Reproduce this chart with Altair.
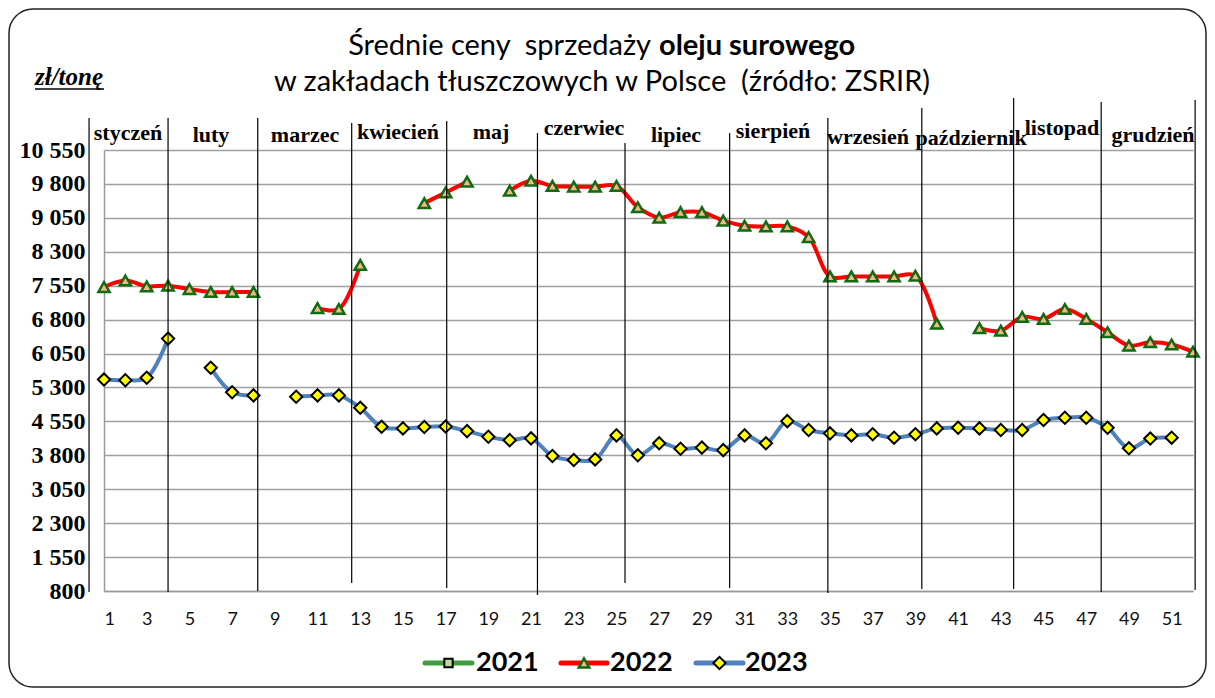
import altair as alt
import pandas as pd

# ---------------- data ----------------
weeks = list(range(1, 53))
y2022 = [7520, 7665, 7535, 7550, 7475, 7410, 7410, 7410, None, None,
         7055, 7035, 8010, None, None, 9375, 9610, 9850, None, 9650,
         9870, 9755, 9740, 9740, 9755, 9285, 9055, 9175, 9175, 8990,
         8875, 8860, 8860, 8625, 7755, 7755, 7755, 7755, 7770, 6710,
         None, 6610, 6555, 6860, 6815, 7035, 6815, 6520, 6225, 6300,
         6250, 6090]
y2023 = [5475, 5460, 5515, 6380, None, 5735, 5195, 5125, None, 5095,
         5125, 5125, 4850, 4430, 4395, 4425, 4435, 4335, 4210, 4135,
         4175, 3785, 3695, 3710, 4240, 3800, 4065, 3945, 3970, 3915,
         4240, 4065, 4555, 4360, 4285, 4240, 4265, 4190, 4265, 4395,
         4410, 4395, 4360, 4360, 4580, 4630, 4630, 4410, 3955, 4170,
         4190, None]
series_names = ["2021", "2022", "2023"]
months = ["styczeń", "luty", "marzec", "kwiecień", "maj", "czerwiec",
          "lipiec", "sierpień", "wrzesień", "październik", "listopad", "grudzień"]
y_ticks = list(range(800, 10551, 750))
x_ticks = list(range(1, 52, 2))

# ---------------- layout (pixels / styling) ----------------
W, H = 1089, 441
OX, OY = 104, 150  # page position of plot origin
boundary_weeks = [0.3, 4.0, 8.2, 12.6, 17.05, 21.3, 25.4, 30.3, 34.9, 39.3, 43.6, 47.7, 52.1]
boundary_ext = [(118, 592), (118, 592), (118, 591), (123, 583), (121, 588), (133, 595),
                (143, 583), (133, 588), (118, 593), (108, 589), (98, 589), (102, 592), (100, 590)]
month_pos = [(128, 133), (211, 135), (305, 135), (398, 132), (491, 132), (584, 128),
             (676, 135), (773, 131), (868, 137), (971, 138), (1062, 128), (1153, 135)]

SERIF = "Liberation Serif"
SANS = "Lato"
NB = "\u00a0"


def segments(vals):
    rows, seg = [], 0
    prev = False
    for w, v in zip(weeks, vals):
        if v is None:
            if prev:
                seg += 1
            prev = False
            continue
        rows.append({"week": w, "value": v, "seg": seg})
        prev = True
    return pd.DataFrame(rows)


d22 = segments(y2022)
d23 = segments(y2023)

xs = alt.Scale(domain=[1, 52], nice=False, zero=False)
ys = alt.Scale(domain=[800, 10550], nice=False, zero=False)

x_axis = alt.Axis(values=x_ticks, title=None, grid=False, ticks=False, tickSize=0,
                  labelFont=SANS, labelFontSize=18, labelColor="#111111",
                  labelPadding=19, domainColor="#9a9a9a", domainWidth=1.5)
y_axis = alt.Axis(values=y_ticks, title=None, grid=True, gridColor="#a0a0a0", gridWidth=1.5,
                  ticks=False, tickSize=0, labelFont=SERIF, labelFontSize=24,
                  labelFontWeight="bold", labelColor="#000000", labelPadding=19,
                  labelExpr="replace(format(datum.value, ','), ',', ' ')",
                  domainColor="#9a9a9a", domainWidth=1.5)

X = alt.X("week:Q", scale=xs, axis=x_axis)
Y = alt.Y("value:Q", scale=ys, axis=y_axis)

layers = []

# 2022
layers.append(alt.Chart(d22).mark_line(color="#ff0000", strokeWidth=4, interpolate="catmull-rom")
              .encode(x=X, y=Y, detail="seg:N"))
layers.append(alt.Chart(d22).mark_point(shape="triangle-up", filled=True, fill="#f3b78a",
                                        stroke="#116b11", strokeWidth=2.5, size=125, opacity=1)
              .encode(x=X, y=Y))
# 2023
layers.append(alt.Chart(d23).mark_line(color="#4f81bd", strokeWidth=4, interpolate="catmull-rom")
              .encode(x=X, y=Y, detail="seg:N"))
layers.append(alt.Chart(d23).mark_point(shape="diamond", filled=True, fill="#ffff00",
                                        stroke="#000000", strokeWidth=2, size=150, opacity=1)
              .encode(x=X, y=Y))

# month boundary lines
for b, (t, bt) in zip(boundary_weeks, boundary_ext):
    layers.append(alt.Chart(pd.DataFrame({"week": [b]})).mark_rule(color="#000000", strokeWidth=1.2)
                  .encode(x=X, y=alt.value(t - OY), y2=alt.value(bt - OY)))

# month labels
for m, (px, py) in zip(months, month_pos):
    layers.append(alt.Chart(pd.DataFrame({"t": [m]})).mark_text(
        font=SERIF, fontSize=22, fontWeight="bold", color="#000000",
        align="center", baseline="middle").encode(
        text="t:N", x=alt.value(px - OX), y=alt.value(py - OY)))

# titles
layers.append(alt.Chart(pd.DataFrame({"t": ["Średnie ceny " + NB + "sprzedaży"]})).mark_text(
    font=SANS, fontSize=29, color="#000000", align="right", baseline="alphabetic").encode(
    text="t:N", x=alt.value(651 - OX), y=alt.value(55 - OY)))
layers.append(alt.Chart(pd.DataFrame({"t": ["oleju surowego"]})).mark_text(
    font=SANS, fontSize=29, fontWeight="bold", color="#000000", align="left",
    baseline="alphabetic").encode(
    text="t:N", x=alt.value(659 - OX), y=alt.value(55 - OY)))
layers.append(alt.Chart(pd.DataFrame({"t": ["w zakładach tłuszczowych w Polsce " + NB + "(źródło: ZSRIR)"]})).mark_text(
    font=SANS, fontSize=29, color="#000000", align="center", baseline="alphabetic").encode(
    text="t:N", x=alt.value(602 - OX), y=alt.value(91 - OY)))

# unit label
layers.append(alt.Chart(pd.DataFrame({"t": ["zł/tonę"]})).mark_text(
    font=SERIF, fontSize=25, fontWeight="bold", fontStyle="italic", color="#000000",
    align="left", baseline="alphabetic").encode(
    text="t:N", x=alt.value(35 - OX), y=alt.value(85 - OY)))
layers.append(alt.Chart(pd.DataFrame({"a": [0]})).mark_rule(color="#000000", strokeWidth=1.6).encode(
    x=alt.value(35 - OX), x2=alt.value(104 - OX), y=alt.value(89 - OY)))

# legend
legend_style = [
    ("#3f9f3f", "square", "#c3d69b", "#000000", 2, 70, 425, 472, 476),
    ("#ff0000", "triangle-up", "#f3b78a", "#116b11", 2.5, 110, 561, 607, 610),
    ("#4f81bd", "diamond", "#ffff00", "#000000", 2, 150, 696, 743, 745),
]
LY = 663
for name, (lc, shp, fc, sc, sw, sz, x0, x1, tx) in zip(series_names, legend_style):
    layers.append(alt.Chart(pd.DataFrame({"a": [0]})).mark_rule(color=lc, strokeWidth=5, strokeCap="round").encode(
        x=alt.value(x0 - OX), x2=alt.value(x1 - OX), y=alt.value(LY - OY)))
    layers.append(alt.Chart(pd.DataFrame({"a": [0]})).mark_point(
        shape=shp, filled=True, fill=fc, stroke=sc, strokeWidth=sw, size=sz, opacity=1).encode(
        x=alt.value((x0 + x1) / 2 - OX), y=alt.value(LY - OY)))
    layers.append(alt.Chart(pd.DataFrame({"t": [name]})).mark_text(
        font=SANS, fontSize=27, fontWeight="bold", color="#000000", align="left",
        baseline="middle").encode(text="t:N", x=alt.value(tx - OX), y=alt.value(LY - OY)))

# rounded outer border
layers.append(alt.Chart(pd.DataFrame({"a": [0]})).mark_rect(
    fill=None, fillOpacity=0, stroke="#222222", strokeWidth=1.5, cornerRadius=24).encode(
    x=alt.value(9 - OX), x2=alt.value(1206 - OX), y=alt.value(9 - OY), y2=alt.value(687 - OY)))

chart = alt.layer(*layers).properties(
    width=W, height=H, autosize="none",
    padding={"left": OX - 8, "top": OY - 8, "right": 1199 - (OX - 8) - W, "bottom": 680 - (OY - 8) - H},
    background="#ffffff",
).configure_view(stroke=None)

chart.save("out.html", embed_options={"renderer": "svg", "actions": False})
